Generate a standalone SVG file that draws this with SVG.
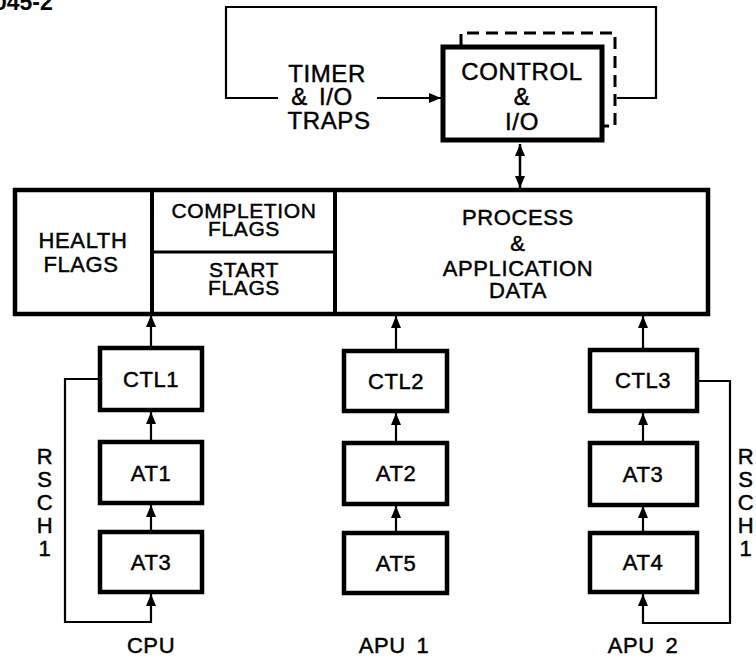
<svg xmlns="http://www.w3.org/2000/svg" width="756" height="658" viewBox="0 0 756 658">
<defs>
<style>
text{font-family:"Liberation Sans",Arial,sans-serif;font-size:22px;fill:#000;stroke:#000;stroke-width:0.45;text-anchor:middle;letter-spacing:0.6px;word-spacing:4px}
.big{font-size:24px}
.tight{font-size:21px}
.box{fill:#fff;stroke:#000;stroke-width:4.5}
.div{fill:none;stroke:#000;stroke-width:4}
.thin{fill:none;stroke:#000;stroke-width:2.5}
.ln{fill:none;stroke:#000;stroke-width:2.2}
.dash{fill:none;stroke:#000;stroke-width:3;stroke-dasharray:12 7}
</style>
<marker id="ah" viewBox="0 0 12 10" refX="12" refY="5" markerWidth="12" markerHeight="10" markerUnits="userSpaceOnUse" orient="auto-start-reverse">
<path d="M0,0 L12,5 L0,10 Z" fill="#000"/>
</marker>
</defs>
<rect width="756" height="658" fill="#fff"/>
<text x="-6" y="10" style="font-weight:bold;text-anchor:start;font-size:23px;letter-spacing:0;stroke-width:0">045-2</text>

<g id="connectors">
<path class="ln" d="M278,98 H226 V7 H656 V98 H617"/>
<path class="ln" d="M377,98 H441" marker-end="url(#ah)"/>
<path class="thin" d="M520,144 V188" marker-start="url(#ah)" marker-end="url(#ah)"/>
<path class="ln" d="M151,347 V315" marker-end="url(#ah)"/>
<path class="ln" d="M151,441 V412" marker-end="url(#ah)"/>
<path class="ln" d="M151,530 V505" marker-end="url(#ah)"/>
<path class="ln" d="M99,379 H65 V622 H151 V594" marker-end="url(#ah)"/>
<path class="ln" d="M396,349 V316" marker-end="url(#ah)"/>
<path class="ln" d="M396,441 V413" marker-end="url(#ah)"/>
<path class="ln" d="M396,531 V506" marker-end="url(#ah)"/>
<path class="ln" d="M643,348 V316" marker-end="url(#ah)"/>
<path class="ln" d="M643,441 V413" marker-end="url(#ah)"/>
<path class="ln" d="M643,531 V506" marker-end="url(#ah)"/>
<path class="ln" d="M699,381 H730 V623 H643 V594" marker-end="url(#ah)"/>
</g>

<g id="timer-label">
<text class="big" x="327" y="82">TIMER</text>
<text class="big" x="322" y="105">&amp; I/O</text>
<text class="big" x="329" y="129">TRAPS</text>
</g>

<g id="control">
<path class="dash" d="M461,46 V33 H615 V126 H604"/>
<rect class="box" x="443" y="47" width="159" height="93" style="stroke-width:5"/>
<text class="big" x="522" y="80">CONTROL</text>
<text class="big" x="522" y="105">&amp;</text>
<text class="big" x="522" y="130">I/O</text>
</g>

<g id="memory">
<rect class="box" x="15" y="190" width="693" height="124"/>
<line class="div" x1="152" y1="190" x2="152" y2="314"/>
<line class="div" x1="335" y1="190" x2="335" y2="314"/>
<line class="thin" x1="152" y1="252" x2="335" y2="252" style="stroke-width:3"/>
</g>
<g id="health-flags">
<text x="83" y="248">HEALTH</text>
<text x="81" y="272">FLAGS</text>
</g>
<g id="completion-flags">
<text class="tight" x="244" y="218">COMPLETION</text>
<text class="tight" x="244" y="236">FLAGS</text>
</g>
<g id="start-flags">
<text class="tight" x="244" y="277">START</text>
<text class="tight" x="244" y="295">FLAGS</text>
</g>
<g id="process-data">
<text x="518" y="225">PROCESS</text>
<text x="518" y="251">&amp;</text>
<text x="518" y="276">APPLICATION</text>
<text x="518" y="298">DATA</text>
</g>

<g id="ctl1"><rect class="box" x="100" y="348" width="102" height="62"/><text x="151" y="387">CTL1</text></g>
<g id="at1"><rect class="box" x="100" y="442" width="102" height="61"/><text x="151" y="481">AT1</text></g>
<g id="at3-cpu"><rect class="box" x="100" y="532" width="102" height="60"/><text x="151" y="570">AT3</text></g>

<g id="ctl2"><rect class="box" x="344" y="351" width="103" height="60"/><text x="396" y="389">CTL2</text></g>
<g id="at2"><rect class="box" x="344" y="443" width="103" height="61"/><text x="396" y="481">AT2</text></g>
<g id="at5"><rect class="box" x="344" y="533" width="103" height="60"/><text x="396" y="571">AT5</text></g>

<g id="ctl3"><rect class="box" x="590" y="350" width="107" height="61"/><text x="643" y="388">CTL3</text></g>
<g id="at3-apu2"><rect class="box" x="590" y="443" width="107" height="62"/><text x="643" y="482">AT3</text></g>
<g id="at4"><rect class="box" x="590" y="533" width="107" height="59"/><text x="643" y="570">AT4</text></g>

<g id="rsch-left">
<text x="45" y="464">R</text>
<text x="45" y="487">S</text>
<text x="45" y="510">C</text>
<text x="45" y="533">H</text>
<text x="45" y="556">1</text>
</g>
<g id="rsch-right">
<text x="746" y="464">R</text>
<text x="746" y="487">S</text>
<text x="746" y="510">C</text>
<text x="746" y="533">H</text>
<text x="746" y="556">1</text>
</g>

<g id="labels">
<text x="151" y="653">CPU</text>
<text x="394" y="653">APU 1</text>
<text x="643" y="653">APU 2</text>
</g>
</svg>
